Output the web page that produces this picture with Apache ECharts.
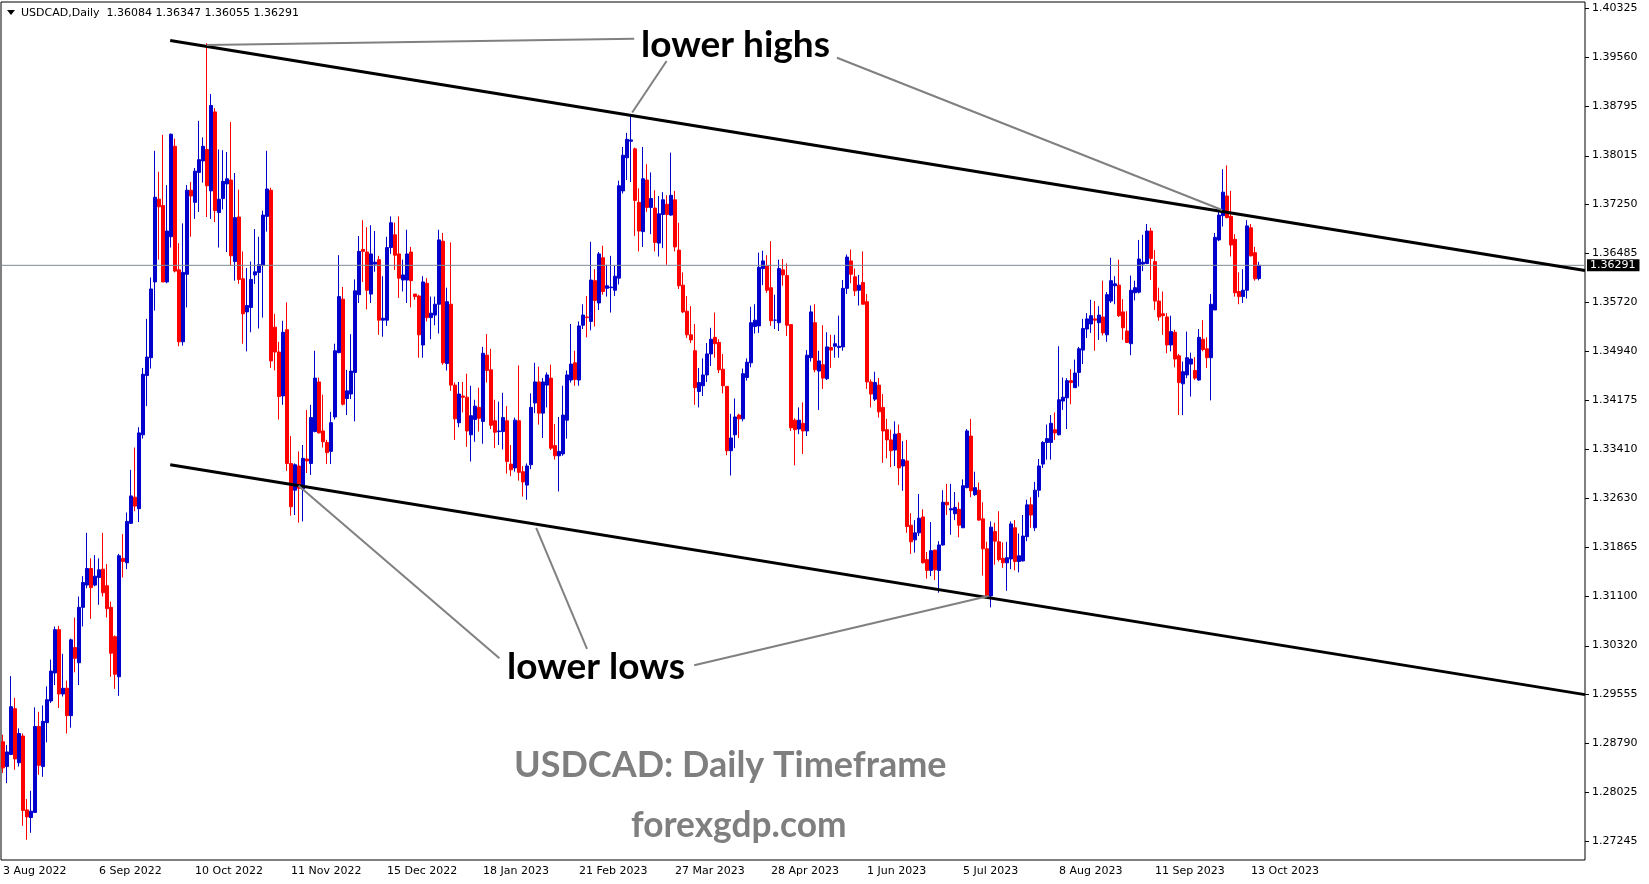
<!DOCTYPE html>
<html>
<head>
<meta charset="utf-8">
<script src="https://cdn.jsdelivr.net/npm/echarts/dist/echarts.min.js"></script>
<style>
html,body{margin:0;padding:0;background:#fff;}
#chart{width:1649px;height:884px;}
</style>
</head>
<body>
<div id="chart"></div>
<script>
// ---- data ----
const symbolName = 'USDCAD';
const timeframe = 'Daily';
const firstDate = '2022-08-03';
const totalSlots = 396; // bars plus empty space on the right

const opens = [
1.2881,1.2842,1.2861,1.2933,1.2848,1.2890,1.2774,1.2762,1.2770,1.2905,
1.2842,1.2911,1.2945,1.2989,1.3057,1.2956,1.2965,1.2922,1.3029,1.3005,
1.3092,1.3127,1.3153,1.3127,1.3139,1.3152,1.3126,1.3092,1.3046,1.2983,
1.3169,1.3162,1.3224,1.3265,1.3247,1.3363,1.3456,1.3484,1.3603,1.3733,
1.3723,1.3603,1.3674,1.3816,1.3622,1.3509,1.3615,1.3747,1.3728,1.3775,
1.3793,1.3811,1.3746,1.3870,1.3712,1.3734,1.3757,1.3763,1.3635,1.3705,
1.3608,1.3556,1.3563,1.3614,1.3618,1.3629,1.3706,1.3747,1.3532,1.3493,
1.3424,1.3528,1.3318,1.3276,1.3314,1.3278,1.3325,1.3318,1.3368,1.3446,
1.3369,1.3351,1.3337,1.3391,1.3492,1.3576,1.3420,1.3427,1.3461,1.3583,
1.3654,1.3650,1.3584,1.3631,1.3638,1.3543,1.3543,1.3657,1.3677,1.3647,
1.3606,1.3606,1.3650,1.3584,1.3581,1.3504,1.3601,1.3547,1.3551,1.3568,
1.3667,1.3475,1.3568,1.3441,1.3382,1.3424,1.3422,1.3363,1.3387,1.3406,
1.3384,1.3488,1.3465,1.3385,1.3368,1.3368,1.3385,1.3317,1.3311,1.3385,
1.3305,1.3284,1.3316,1.3413,1.3446,1.3397,1.3441,1.3452,1.3346,1.3330,
1.3333,1.3386,1.3449,1.3476,1.3449,1.3535,1.3548,1.3541,1.3605,1.3570,
1.3641,1.3593,1.3594,1.3590,1.3609,1.3746,1.3798,1.3824,1.3812,1.3728,
1.3682,1.3763,1.3720,1.3719,1.3664,1.3709,1.3725,1.3708,1.3732,1.3653,
1.3598,1.3557,1.3520,1.3495,1.3431,1.3440,1.3457,1.3490,1.3516,1.3508,
1.3466,1.3439,1.3338,1.3363,1.3394,1.3388,1.3453,1.3476,1.3533,1.3534,
1.3624,1.3628,1.3594,1.3543,1.3539,1.3622,1.3613,1.3536,1.3386,1.3372,
1.3381,1.3369,1.3484,1.3539,1.3463,1.3473,1.3451,1.3500,1.3502,1.3500,
1.3501,1.3593,1.3636,1.3611,1.3590,1.3602,1.3572,1.3446,1.3419,1.3441,
1.3406,1.3371,1.3355,1.3339,1.3365,1.3314,1.3322,1.3221,1.3198,1.3209,
1.3234,1.3167,1.3150,1.3182,1.3150,1.3190,1.3257,1.3245,1.3239,1.3246,
1.3217,1.3280,1.3361,1.3269,1.3276,1.3231,1.3184,1.3110,1.3211,1.3195,
1.3169,1.3162,1.3168,1.3217,1.3164,1.3165,1.3203,1.3253,1.3217,1.3276,
1.3317,1.3351,1.3351,1.3371,1.3363,1.3416,1.3421,1.3448,1.3437,1.3461,
1.3496,1.3529,1.3537,1.3545,1.3539,1.3548,1.3520,1.3573,1.3597,1.3598,
1.3556,1.3526,1.3506,1.3586,1.3587,1.3631,1.3632,1.3683,1.3635,1.3573,
1.3553,1.3548,1.3504,1.3524,1.3487,1.3443,1.3457,1.3474,1.3464,1.3449,
1.3513,1.3498,1.3484,1.3559,1.3669,1.3707,1.3738,1.3706,1.3670,1.3588,
1.3580,1.3590,1.3688,1.3649,1.36084];

const closes = [
1.2840,1.2865,1.2936,1.2854,1.2894,1.2773,1.2763,1.2772,1.2905,1.2844,
1.2913,1.2947,1.2992,1.3057,1.2956,1.2965,1.2922,1.3041,1.3012,1.3092,
1.3131,1.3153,1.3123,1.3141,1.3151,1.3115,1.3090,1.3020,1.2987,1.3173,
1.3164,1.3227,1.3267,1.3251,1.3366,1.3458,1.3485,1.3592,1.3736,1.3721,
1.3603,1.3683,1.3835,1.3620,1.3509,1.3618,1.3747,1.3738,1.3777,1.3795,
1.3816,1.3754,1.3880,1.3715,1.3733,1.3761,1.3765,1.3644,1.3704,1.3607,
1.3553,1.3566,1.3607,1.3619,1.3630,1.3708,1.3749,1.3479,1.3493,1.3423,
1.3524,1.3318,1.3250,1.3316,1.3279,1.3326,1.3322,1.3390,1.3452,1.3366,
1.3352,1.3335,1.3382,1.3495,1.3580,1.3411,1.3432,1.3463,1.3589,1.3651,
1.3651,1.3590,1.3647,1.3634,1.3543,1.3546,1.3657,1.3696,1.3645,1.3609,
1.3614,1.3647,1.3605,1.3580,1.3520,1.3603,1.3547,1.3554,1.3568,1.3669,
1.3476,1.3572,1.3441,1.3388,1.3427,1.3422,1.3369,1.3393,1.3408,1.3389,
1.3491,1.3464,1.3378,1.3367,1.3369,1.3390,1.3321,1.3308,1.3386,1.3304,
1.3289,1.3314,1.3406,1.3446,1.3397,1.3446,1.3457,1.3342,1.3330,1.3337,
1.3394,1.3457,1.3474,1.3450,1.3534,1.3551,1.3547,1.3606,1.3574,1.3647,
1.3588,1.3597,1.3595,1.3612,1.3754,1.3802,1.3827,1.3826,1.3731,1.3683,
1.3765,1.3720,1.3734,1.3665,1.3710,1.3732,1.3709,1.3739,1.3658,1.3597,
1.3556,1.3520,1.3512,1.3437,1.3445,1.3457,1.3490,1.3513,1.3506,1.3465,
1.3440,1.3338,1.3358,1.3391,1.3388,1.3459,1.3477,1.3539,1.3543,1.3626,
1.3636,1.3590,1.3542,1.3543,1.3624,1.3614,1.3535,1.3374,1.3371,1.3386,
1.3369,1.3488,1.3556,1.3465,1.3479,1.3452,1.3501,1.3496,1.3506,1.3502,
1.3593,1.3642,1.3615,1.3589,1.3598,1.3568,1.3446,1.3427,1.3445,1.3399,
1.3369,1.3355,1.3338,1.3364,1.3311,1.3324,1.3219,1.3195,1.3209,1.3232,
1.3162,1.3150,1.3181,1.3151,1.3190,1.3257,1.3253,1.3247,1.3249,1.3221,
1.3283,1.3369,1.3275,1.3280,1.3229,1.3184,1.3109,1.3218,1.3196,1.3167,
1.3162,1.3170,1.3223,1.3164,1.3173,1.3204,1.3253,1.3237,1.3276,1.3314,
1.3351,1.3357,1.3381,1.3366,1.3418,1.3422,1.3448,1.3445,1.3460,1.3498,
1.3530,1.3545,1.3550,1.3543,1.3551,1.3523,1.3583,1.3605,1.3600,1.3550,
1.3531,1.3508,1.3590,1.3594,1.3639,1.3634,1.3683,1.3640,1.3573,1.3548,
1.3550,1.3504,1.3525,1.3482,1.3445,1.3462,1.3484,1.3482,1.3452,1.3516,
1.3497,1.3484,1.3568,1.3673,1.3708,1.3744,1.3704,1.3661,1.3586,1.3580,
1.3590,1.3691,1.3644,1.3608,1.36291];

const lows = [
1.2832,1.2816,1.2860,1.2837,1.2842,1.2749,1.2727,1.2738,1.2770,1.2829,
1.2826,1.2880,1.2942,1.2970,1.2934,1.2952,1.2894,1.2903,1.2990,1.2970,
1.3062,1.3122,1.3074,1.3125,1.3096,1.3109,1.3076,1.2983,1.2964,1.2953,
1.3139,1.3152,1.3223,1.3243,1.3226,1.3357,1.3408,1.3467,1.3558,1.3638,
1.3603,1.3601,1.3657,1.3618,1.3502,1.3503,1.3563,1.3674,1.3702,1.3713,
1.3759,1.3705,1.3702,1.3697,1.3657,1.3717,1.3650,1.3629,1.3605,1.3600,
1.3506,1.3494,1.3524,1.3600,1.3530,1.3547,1.3682,1.3468,1.3464,1.3387,
1.3410,1.3306,1.3236,1.3237,1.3225,1.3227,1.3303,1.3300,1.3367,1.3365,
1.3343,1.3317,1.3317,1.3387,1.3491,1.3409,1.3394,1.3419,1.3384,1.3570,
1.3603,1.3560,1.3570,1.3619,1.3520,1.3517,1.3534,1.3647,1.3622,1.3578,
1.3588,1.3570,1.3563,1.3575,1.3484,1.3484,1.3541,1.3513,1.3535,1.3522,
1.3473,1.3464,1.3432,1.3355,1.3375,1.3398,1.3344,1.3321,1.3352,1.3368,
1.3349,1.3445,1.3372,1.3342,1.3347,1.3340,1.3302,1.3298,1.3305,1.3291,
1.3266,1.3261,1.3309,1.3397,1.3379,1.3358,1.3406,1.3339,1.3324,1.3274,
1.3330,1.3357,1.3445,1.3440,1.3440,1.3529,1.3516,1.3527,1.3533,1.3559,
1.3583,1.3580,1.3555,1.3581,1.3599,1.3742,1.3763,1.3760,1.3675,1.3651,
1.3658,1.3713,1.3678,1.3651,1.3643,1.3656,1.3630,1.3707,1.3651,1.3592,
1.3554,1.3515,1.3507,1.3410,1.3406,1.3424,1.3446,1.3471,1.3484,1.3460,
1.3428,1.3331,1.3299,1.3342,1.3358,1.3384,1.3448,1.3469,1.3522,1.3523,
1.3598,1.3586,1.3534,1.3529,1.3526,1.3597,1.3518,1.3369,1.3315,1.3364,
1.3333,1.3361,1.3478,1.3461,1.3402,1.3435,1.3449,1.3468,1.3484,1.3484,
1.3495,1.3584,1.3601,1.3581,1.3566,1.3568,1.3435,1.3406,1.3416,1.3390,
1.3319,1.3326,1.3312,1.3314,1.3284,1.3275,1.3209,1.3176,1.3178,1.3204,
1.3161,1.3137,1.3141,1.3135,1.3115,1.3189,1.3237,1.3206,1.3229,1.3202,
1.3217,1.3279,1.3265,1.3267,1.3228,1.3142,1.3109,1.3092,1.3159,1.3164,
1.3154,1.3118,1.3152,1.3150,1.3147,1.3164,1.3196,1.3217,1.3212,1.3265,
1.3311,1.3324,1.3324,1.3355,1.3362,1.3402,1.3372,1.3411,1.3437,1.3439,
1.3474,1.3515,1.3523,1.3495,1.3512,1.3519,1.3509,1.3570,1.3568,1.3548,
1.3512,1.3507,1.3488,1.3574,1.3585,1.3620,1.3631,1.3606,1.3559,1.3542,
1.3520,1.3491,1.3494,1.3469,1.3394,1.3394,1.3452,1.3423,1.3449,1.3448,
1.3494,1.3468,1.3417,1.3559,1.3667,1.3690,1.3703,1.3643,1.3580,1.3568,
1.3570,1.3577,1.3643,1.3605,1.36055];

const highs = [
1.2892,1.2876,1.2984,1.2950,1.2902,1.2894,1.2791,1.2804,1.2935,1.2928,
1.2938,1.2968,1.3010,1.3062,1.3063,1.3019,1.2977,1.3043,1.3076,1.3109,
1.3141,1.3209,1.3169,1.3174,1.3169,1.3209,1.3160,1.3101,1.3048,1.3176,
1.3207,1.3241,1.3308,1.3343,1.3375,1.3468,1.3545,1.3610,1.3809,1.3776,
1.3834,1.3755,1.3836,1.3828,1.3664,1.3695,1.3755,1.3760,1.3782,1.3856,
1.3830,1.3978,1.3898,1.3876,1.3811,1.3810,1.3807,1.3854,1.3774,1.3748,
1.3651,1.3625,1.3635,1.3686,1.3674,1.3715,1.3809,1.3751,1.3553,1.3509,
1.3542,1.3571,1.3361,1.3318,1.3337,1.3347,1.3402,1.3410,1.3495,1.3453,
1.3426,1.3355,1.3399,1.3506,1.3645,1.3595,1.3465,1.3521,1.3607,1.3675,
1.3700,1.3689,1.3692,1.3683,1.3644,1.3612,1.3674,1.3706,1.3696,1.3706,
1.3638,1.3685,1.3658,1.3584,1.3583,1.3612,1.3609,1.3580,1.3580,1.3685,
1.3680,1.3594,1.3665,1.3445,1.3446,1.3446,1.3459,1.3440,1.3418,1.3437,
1.3501,1.3521,1.3498,1.3418,1.3415,1.3429,1.3408,1.3347,1.3390,1.3472,
1.3314,1.3318,1.3428,1.3476,1.3470,1.3452,1.3461,1.3473,1.3380,1.3391,
1.3440,1.3464,1.3537,1.3495,1.3541,1.3568,1.3581,1.3666,1.3623,1.3650,
1.3660,1.3630,1.3644,1.3629,1.3762,1.3815,1.3837,1.3865,1.3814,1.3750,
1.3815,1.3788,1.3775,1.3747,1.3738,1.3744,1.3739,1.3806,1.3746,1.3696,
1.3618,1.3581,1.3565,1.3537,1.3468,1.3483,1.3507,1.3531,1.3555,1.3513,
1.3490,1.3439,1.3396,1.3420,1.3396,1.3467,1.3483,1.3564,1.3568,1.3649,
1.3652,1.3645,1.3667,1.3583,1.3638,1.3639,1.3632,1.3536,1.3389,1.3406,
1.3414,1.3496,1.3566,1.3568,1.3495,1.3535,1.3524,1.3520,1.3520,1.3550,
1.3606,1.3646,1.3654,1.3624,1.3614,1.3651,1.3584,1.3450,1.3462,1.3452,
1.3427,1.3388,1.3371,1.3384,1.3379,1.3353,1.3355,1.3240,1.3229,1.3270,
1.3246,1.3179,1.3226,1.3182,1.3196,1.3276,1.3286,1.3286,1.3273,1.3257,
1.3293,1.3372,1.3388,1.3305,1.3288,1.3257,1.3195,1.3227,1.3225,1.3243,
1.3194,1.3195,1.3227,1.3229,1.3208,1.3237,1.3261,1.3265,1.3289,1.3325,
1.3353,1.3379,1.3394,1.3398,1.3502,1.3453,1.3452,1.3466,1.3481,1.3501,
1.3545,1.3554,1.3575,1.3573,1.3565,1.3605,1.3587,1.3641,1.3612,1.3638,
1.3576,1.3557,1.3613,1.3605,1.3669,1.3677,1.3694,1.3688,1.3653,1.3594,
1.3588,1.3554,1.3550,1.3528,1.3490,1.3478,1.3525,1.3492,1.3485,1.3529,
1.3543,1.3516,1.3584,1.3680,1.3717,1.3780,1.3786,1.3746,1.3678,1.3618,
1.3623,1.3700,1.3694,1.3658,1.36347];

const yTickLabels = ['1.40325','1.39560','1.38795','1.38015','1.37250','1.36485','1.35720','1.34940',
  '1.34175','1.33410','1.32630','1.31865','1.31100','1.30320','1.29555','1.28790','1.28025','1.27245'];
const yRange = [1.26953, 1.40426];
const xLabelEvery = 24;

// trend lines & pointer lines: [bar index, price]
const upperTrend = [[41.8, 1.3982], [395.5, 1.3621]];
const lowerTrend = [[41.8, 1.3316], [395.5, 1.2955]];
const pointerLines = [
  [[50.9, 1.3975], [157.8, 1.3985]],
  [[165.9, 1.3950], [157.3, 1.3869]],
  [[208.5, 1.3955], [304.8, 1.3716]],
  [[73.9, 1.3283], [124.1, 1.3012]],
  [[133.3, 1.3217], [146.0, 1.3027]],
  [[172.8, 1.3001], [246.4, 1.3110]]
];

// ---- build ----
const MONTHS = ['Jan','Feb','Mar','Apr','May','Jun','Jul','Aug','Sep','Oct','Nov','Dec'];
function tradingDays(startISO, count) {
  const out = [];
  const d = new Date(startISO + 'T00:00:00Z');
  while (out.length < count) {
    const wd = d.getUTCDay();
    if (wd !== 0 && wd !== 6) out.push(d.getUTCDate() + ' ' + MONTHS[d.getUTCMonth()] + ' ' + d.getUTCFullYear());
    d.setUTCDate(d.getUTCDate() + 1);
  }
  return out;
}
const dates = tradingDays(firstDate, totalSlots);
const nBars = closes.length;
const candles = opens.map((o, i) => [o, closes[i], lows[i], highs[i]]);
const lastIdx = nBars - 1;
const lastClose = closes[lastIdx];
const header = symbolName + ',' + timeframe + '  ' + [opens[lastIdx], highs[lastIdx], lows[lastIdx], closes[lastIdx]].map(v => v.toFixed(5)).join(' ');
const tickVals = yTickLabels.map(Number);

const chart = echarts.init(document.getElementById('chart'), null, {renderer: 'canvas'});
const lineSeries = (data, color, width, extra) => Object.assign({
  type: 'line', xAxisIndex: 1, yAxisIndex: 0, data: data, symbol: 'none', silent: true,
  lineStyle: {color: color, width: width}, z: 5, animation: false
}, extra || {});

const GRID = {left: 1, right: 64, top: 2, bottom: 24};

const option = {
  animation: false,
  backgroundColor: '#ffffff',
  grid: Object.assign({show: true, borderColor: '#000', borderWidth: 1, backgroundColor: 'transparent'}, GRID),
  xAxis: [{
    type: 'category', data: dates, boundaryGap: true,
    axisLine: {show: false}, axisTick: {show: false}, splitLine: {show: false},
    axisLabel: {
      interval: (idx) => idx % xLabelEvery === 0 && idx < nBars,
      align: 'left', margin: 6, color: '#000', fontFamily: 'DejaVu Sans', fontSize: 11, hideOverlap: false
    }
  }, {
    type: 'value', min: -0.5, max: totalSlots - 0.5, show: false
  }],
  yAxis: [{
    type: 'value', position: 'right', min: yRange[0], max: yRange[1],
    axisLine: {show: false}, splitLine: {show: false}, axisTick: {show: false},
    axisLabel: {customValues: tickVals, margin: 7, color: '#000', fontFamily: 'DejaVu Sans', fontSize: 11,
      formatter: (v) => v.toFixed(5)}
  }],
  series: [
    {
      type: 'candlestick', xAxisIndex: 0, yAxisIndex: 0, data: candles, barWidth: 3,
      itemStyle: {color: '#0000cd', color0: '#ff0000', borderColor: '#0000cd', borderColor0: '#ff0000', borderWidth: 1}
    },
    lineSeries([[-0.5, lastClose], [totalSlots - 0.5, lastClose]], '#7d8a96', 1, {
      z: 3,
      endLabel: {show: true, distance: 2, formatter: () => lastClose.toFixed(5),
        backgroundColor: '#000', color: '#fff', fontFamily: 'DejaVu Sans', fontSize: 11, padding: [1, 4, 0, 3]}
    }),
    lineSeries(upperTrend, '#000', 3),
    lineSeries(lowerTrend, '#000', 3),
    ...pointerLines.map(p => lineSeries(p, '#808080', 2))
  ],
  graphic: [
    {type: 'polygon', shape: {points: [[7, 10], [15, 10], [11, 15]]}, style: {fill: '#000'}},
    {type: 'text', x: 21, y: 13, style: {text: header, font: '11px "DejaVu Sans"', fill: '#000', verticalAlign: 'middle'}},
    {type: 'text', x: 641, y: 45, style: {text: 'lower highs', font: 'bold 37px Lato', fill: '#000', verticalAlign: 'middle'}},
    {type: 'text', x: 507, y: 667, style: {text: 'lower lows', font: 'bold 37px Lato', fill: '#000', verticalAlign: 'middle'}},
    {type: 'text', x: 514, y: 765, style: {text: 'USDCAD: Daily Timeframe', font: 'bold 36px Lato', fill: '#7f7f7f', verticalAlign: 'middle'}},
    {type: 'text', x: 631, y: 826, style: {text: 'forexgdp.com', font: 'bold 35.3px Lato', fill: '#7f7f7f', verticalAlign: 'middle'}}
  ]
};
chart.setOption(option);

// small outward tick marks on the right price axis, placed through the axis scale
const axisX = 1649 - GRID.right;
const tickGraphics = tickVals.map(v => {
  const y = Math.round(chart.convertToPixel({yAxisIndex: 0}, v)) + 0.5;
  return {type: 'line', shape: {x1: axisX, y1: y, x2: axisX + 4, y2: y}, style: {stroke: '#000', lineWidth: 1}, silent: true};
});
chart.setOption({graphic: option.graphic.concat(tickGraphics)});
</script>
</body>
</html>
